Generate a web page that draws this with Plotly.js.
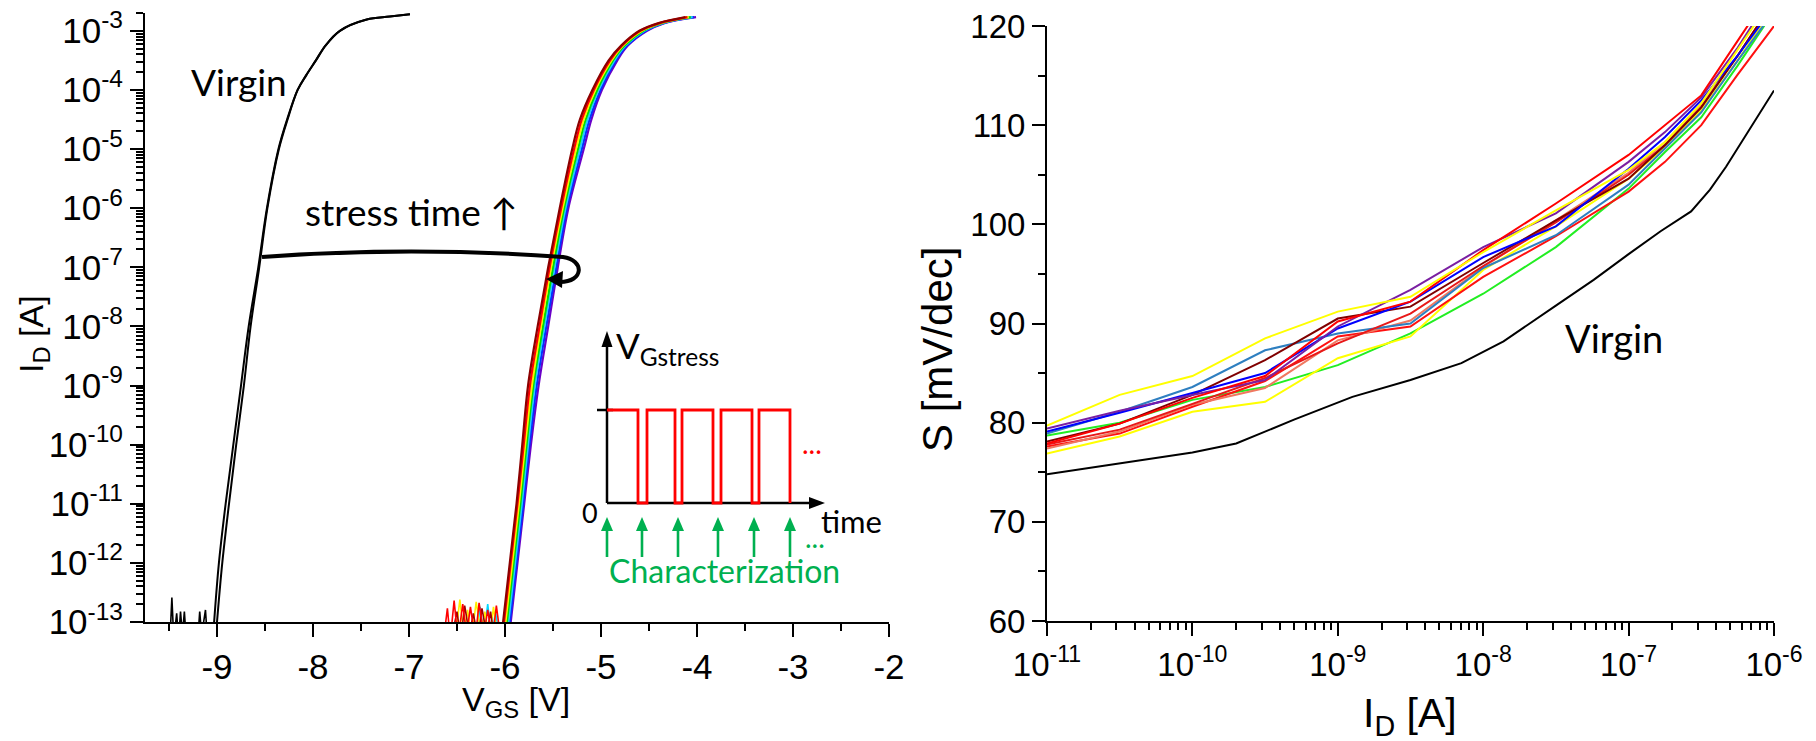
<!DOCTYPE html>
<html><head><meta charset="utf-8">
<script src="https://cdn.plot.ly/plotly-3.0.1.min.js"></script>
<style>html,body{margin:0;padding:0;background:#fff}#chart{width:1816px;height:741px}</style>
</head><body><div id="chart"></div>
<script>
// ================= LEFT PANEL: I_D vs V_GS =================
const virginI = [1e-13,1e-12,1e-11,1e-10,1e-9,1e-8,1e-7,1e-6,1e-5,3.16e-5,1e-4,1.78e-4,3.16e-4,5.62e-4,1e-3,1.55e-3,1.74e-3,1.91e-3];
const virginFwdV = [-9.03,-8.98,-8.91,-8.83,-8.75,-8.67,-8.57,-8.48,-8.36,-8.27,-8.16,-8.07,-7.97,-7.87,-7.72,-7.44,-7.20,-6.99];
const virginRevV = [-9.00,-8.945,-8.875,-8.80,-8.72,-8.65,-8.56,-8.475,-8.355,-8.265,-8.16,-8.07,-7.97,-7.87,-7.72,-7.44,-7.20,-6.99];
const virginNoiseV = [-9.52,-9.49,-9.47,-9.45,-9.42,-9.40,-9.38,-9.36,-9.34,-9.32,-9.25,-9.20,-9.18,-9.16,-9.12,-9.10,-9.06,-9.03];
const virginNoiseI = [4e-14,5e-14,2.6e-13,5e-14,1.4e-13,5e-14,1.5e-13,6e-14,1.5e-13,5e-14,4e-14,5e-14,1.5e-13,6e-14,1.6e-13,5e-14,6e-14,1e-13];

const stressI = [1e-13,1e-12,1e-11,1e-10,1e-9,1e-8,1e-7,1e-6,1e-5,3.16e-5,1e-4,3.16e-4,5.62e-4,1e-3,1.35e-3,1.7e-3];
const stressDarkRedV = [-6.02,-5.95,-5.88,-5.82,-5.76,-5.66,-5.55,-5.43,-5.30,-5.22,-5.09,-4.92,-4.79,-4.60,-4.40,-4.12];
const stressRedV     = [-6.01,-5.94,-5.87,-5.805,-5.74,-5.64,-5.535,-5.415,-5.28,-5.20,-5.075,-4.905,-4.78,-4.59,-4.39,-4.10];
const stressYellowV  = [-5.995,-5.925,-5.855,-5.79,-5.72,-5.625,-5.52,-5.40,-5.26,-5.18,-5.06,-4.89,-4.77,-4.575,-4.38,-4.085];
const stressGreenV   = [-5.98,-5.91,-5.84,-5.775,-5.705,-5.605,-5.50,-5.385,-5.24,-5.16,-5.04,-4.875,-4.755,-4.56,-4.37,-4.065];
const stressCyanV    = [-5.965,-5.895,-5.825,-5.76,-5.69,-5.59,-5.485,-5.37,-5.22,-5.14,-5.025,-4.86,-4.745,-4.55,-4.36,-4.045];
const stressLBlueV   = [-5.95,-5.88,-5.81,-5.745,-5.67,-5.57,-5.465,-5.355,-5.20,-5.12,-5.005,-4.845,-4.73,-4.535,-4.35,-4.03];
const stressBlueV    = [-5.94,-5.87,-5.80,-5.73,-5.65,-5.55,-5.45,-5.34,-5.18,-5.10,-4.99,-4.83,-4.72,-4.52,-4.34,-4.01];

const noiseDarkRedV = [-6.55,-6.50,-6.46,-6.42,-6.37,-6.33,-6.28,-6.24,-6.19,-6.15,-6.11,-6.07,-6.02];
const noiseDarkRedI = [6e-14,1.5e-13,5e-14,1.9e-13,6e-14,1.4e-13,5e-14,1.7e-13,6e-14,1.5e-13,5e-14,7e-14,1e-13];
const noiseRedV = [-6.64,-6.60,-6.57,-6.53,-6.49,-6.44,-6.40,-6.36,-6.31,-6.27,-6.22,-6.18,-6.13,-6.09,-6.05,-6.01];
const noiseRedI = [5e-14,1.7e-13,5e-14,2.3e-13,5e-14,2.0e-13,6e-14,1.8e-13,5e-14,2.1e-13,6e-14,1.6e-13,5e-14,1.9e-13,6e-14,1e-13];
const noiseYellowV = [-6.52,-6.47,-6.43,-6.39,-6.35,-6.30,-6.25,-6.21,-6.16,-6.12,-6.08,-6.0];
const noiseYellowI = [5e-14,2.4e-13,6e-14,1.6e-13,5e-14,2.2e-13,6e-14,1.5e-13,5e-14,1.8e-13,6e-14,1e-13];
const noiseCyanV = [-6.30,-6.26,-6.22,-6.18,-6.14,-6.10,-6.06,-5.97];
const noiseCyanI = [5e-14,1.8e-13,6e-14,2.0e-13,5e-14,1.5e-13,6e-14,1e-13];

const leftXTicks = [-9,-8,-7,-6,-5,-4,-3,-2];
const leftXTickText = ['-9','-8','-7','-6','-5','-4','-3','-2'];
const leftYExp = [-13,-12,-11,-10,-9,-8,-7,-6,-5,-4,-3];

// ================= RIGHT PANEL: S vs I_D =================
const virginSI = [1e-11,3.16e-11,1e-10,2e-10,5e-10,1.26e-9,3.16e-9,7.08e-9,1.38e-8,3.16e-8,5.75e-8,1e-7,1.66e-7,2.69e-7,3.63e-7,4.68e-7,7.24e-7,1e-6];
const virginS  = [74.8,75.9,77.0,77.9,80.3,82.6,84.3,86.0,88.2,91.8,94.4,97.0,99.3,101.3,103.5,105.8,110.2,113.5];

const stressSI = [1e-11,3.16e-11,1e-10,3.16e-10,1e-9,3.16e-9,1e-8,3.16e-8,1e-7,1.78e-7,3.16e-7,5.62e-7,1e-6];
const sYellowA = [79.7,82.8,84.7,88.5,91.2,92.7,97.2,101.4,105.5,108.3,112.2,117.5,123];
const sSteel   = [78.9,81.1,83.6,87.3,89.0,90.0,95.6,98.9,104.0,107.7,111.3,116.5,121.5];
const sDarkRed = [78.1,79.9,82.8,86.3,90.5,91.7,96.1,100.4,104.6,108.0,111.8,117.0,122.5];
const sRed1    = [77.9,79.9,82.5,84.7,90.2,92.2,97.4,102.1,107.0,110.0,113.0,118.5,124];
const sBlue    = [79.1,81.0,83.0,85.0,89.5,92.2,96.7,99.8,105.6,108.8,112.5,117.0,122];
const sPurple  = [79.4,81.2,82.8,84.3,89.7,93.4,97.7,101.1,106.3,109.3,112.8,117.8,123.5];
const sGreen   = [78.7,80.0,82.3,83.6,85.8,89.0,93.0,97.7,103.6,107.3,110.8,116.0,121.5];
const sSalmon  = [77.4,79.1,81.8,83.5,88.3,90.3,95.7,100.4,105.2,108.3,112.0,117.0,122.5];
const sRed2    = [77.6,78.9,81.6,84.2,88.7,89.7,94.7,98.8,103.3,106.3,110.0,115.1,120.0];
const sYellowB = [76.9,78.6,81.1,82.1,86.5,88.7,95.4,99.8,104.6,107.8,111.5,116.5,122];
const sRed3    = [77.8,79.3,81.9,84.5,88.0,91.0,95.8,100.2,105.0,108.0,111.8,117.0,122.5];

const rightXExp = [-11,-10,-9,-8,-7,-6];
const rightYTicks = [60,70,80,90,100,110,120];

// ================= helpers =================
const W = 1816, H = 741;
const FONT = 'Liberation Sans, Arial, sans-serif';
const TFONT = 'Lato, Open Sans, sans-serif';
const px = x => (x / W).toFixed(5);
const py = y => (1 - y / H).toFixed(5);
function path(pts) {
  return pts.map(p => p[0] + ' ' + p.slice(1).reduce((a, v, i) => a + (i % 2 === 0 ? px(v) : ',' + py(v) + ' '), '')).join(' ');
}
function pow10Text(e) { return '10<sup>' + String(e) + '</sup>'; }
function minorLog(e0, e1) {
  const out = [];
  for (let e = e0; e < e1; e++) for (let m = 2; m <= 9; m++) out.push(m * Math.pow(10, e));
  return out;
}

const traces = [];
function lineL(x, y, color, width, shape) {
  traces.push({x: x, y: y, xaxis: 'x', yaxis: 'y', type: 'scatter', mode: 'lines',
    line: {color: color, width: width, shape: shape || 'linear', smoothing: 1}, hoverinfo: 'skip'});
}
function lineR(x, y, color, width) {
  traces.push({x: x, y: y, xaxis: 'x2', yaxis: 'y2', type: 'scatter', mode: 'lines',
    line: {color: color, width: width}, hoverinfo: 'skip'});
}

// left traces
lineL(virginNoiseV, virginNoiseI, '#000', 1.6);
lineL(virginFwdV, virginI, '#000', 2, 'spline');
lineL(virginRevV, virginI, '#000', 2, 'spline');
lineL(noiseCyanV, noiseCyanI, '#00d8ff', 1.6);
lineL(noiseYellowV, noiseYellowI, '#ffee00', 1.6);
lineL(noiseDarkRedV, noiseDarkRedI, '#a00000', 1.6);
lineL(noiseRedV, noiseRedI, '#ff0000', 1.6);
lineL(stressBlueV, stressI, '#6a00c8', 2.2, 'spline');
lineL(stressLBlueV, stressI, '#0033ff', 2.2, 'spline');
lineL(stressCyanV, stressI, '#22ccff', 2.2, 'spline');
lineL(stressGreenV, stressI, '#00dd00', 2.2, 'spline');
lineL(stressYellowV, stressI, '#ffee00', 2.2, 'spline');
lineL(stressRedV, stressI, '#ff0000', 2.2, 'spline');
lineL(stressDarkRedV, stressI, '#8b0000', 2.2, 'spline');

// right traces
lineR(virginSI, virginS, '#000', 2);
lineR(stressSI, sGreen, '#22ee22', 2);
lineR(stressSI, sYellowB, '#ffff00', 2);
lineR(stressSI, sRed2, '#ff1010', 2);
lineR(stressSI, sSalmon, '#f07860', 2);
lineR(stressSI, sSteel, '#2e7fc0', 2);
lineR(stressSI, sRed3, '#e81818', 2);
lineR(stressSI, sDarkRed, '#800000', 2);
lineR(stressSI, sBlue, '#0000ff', 2);
lineR(stressSI, sPurple, '#7a1fa2', 2);
lineR(stressSI, sRed1, '#ff0000', 2);
lineR(stressSI, sYellowA, '#ffff00', 2);

const axBase = {showline: true, linecolor: '#000', linewidth: 2, ticks: 'outside', ticklen: 13, tickwidth: 2,
  tickcolor: '#000', showgrid: false, zeroline: false, mirror: false, fixedrange: true};

const layout = {
  width: W, height: H, margin: {l: 0, r: 0, t: 0, b: 0}, paper_bgcolor: '#fff', plot_bgcolor: '#fff',
  showlegend: false, font: {family: FONT, color: '#000'},
  xaxis: Object.assign({}, axBase, {domain: [145 / W, 889 / W], range: [-9.75, -2], anchor: 'y',
    tickmode: 'array', tickvals: leftXTicks, ticktext: leftXTickText, tickfont: {size: 35, family: FONT},
    minor: {tickmode: 'array', tickvals: [-9.5,-8.5,-7.5,-6.5,-5.5,-4.5,-3.5,-2.5], ticks: 'outside', ticklen: 7, tickwidth: 2, tickcolor: '#000'}}),
  yaxis: Object.assign({}, axBase, {domain: [1 - 622 / H, 1 - 13 / H], type: 'log', range: [-13, Math.log10(2e-3)], anchor: 'x',
    tickmode: 'array', tickvals: leftYExp.map(e => Math.pow(10, e)), ticktext: leftYExp.map(pow10Text), tickfont: {size: 35, family: FONT},
    minor: {tickmode: 'array', tickvals: minorLog(-13, -2), ticks: 'outside', ticklen: 7, tickwidth: 2, tickcolor: '#000'}}),
  xaxis2: Object.assign({}, axBase, {domain: [1047 / W, 1774 / W], type: 'log', range: [-11, -6], anchor: 'y2',
    tickmode: 'array', tickvals: rightXExp.map(e => Math.pow(10, e)), ticktext: rightXExp.map(pow10Text), tickfont: {size: 33, family: FONT},
    minor: {tickmode: 'array', tickvals: minorLog(-11, -6), ticks: 'outside', ticklen: 7, tickwidth: 2, tickcolor: '#000'}}),
  yaxis2: Object.assign({}, axBase, {domain: [1 - 621 / H, 1 - 26 / H], range: [60, 120], anchor: 'x2',
    tickmode: 'array', tickvals: rightYTicks, ticktext: rightYTicks.map(String), tickfont: {size: 33, family: FONT},
    minor: {tickmode: 'array', tickvals: [65,75,85,95,105,115], ticks: 'outside', ticklen: 7, tickwidth: 2, tickcolor: '#000'}}),
  shapes: [],
  annotations: []
};

function ann(text, x, y, size, opts) {
  layout.annotations.push(Object.assign({text: text, x: x / W, y: 1 - y / H, xref: 'paper', yref: 'paper',
    showarrow: false, xanchor: 'center', yanchor: 'middle', font: {size: size, family: TFONT, color: '#000'}}, opts || {}));
}
function shp(d, color, width, fill) {
  layout.shapes.push({type: 'path', xref: 'paper', yref: 'paper', path: d,
    line: {color: color, width: fill ? 0 : width}, fillcolor: fill ? color : 'rgba(0,0,0,0)', layer: 'above'});
}

// axis titles
ann('I<sub>D</sub> [A]', 33, 334, 34, {textangle: -90, font: {size: 34, family: FONT, color: '#000'}});
ann('V<sub>GS</sub> [V]', 516, 701, 34, {font: {size: 34, family: FONT, color: '#000'}});
ann('I<sub>D</sub> [A]', 1410, 716, 41, {font: {size: 41, family: FONT, color: '#000'}});
ann('S [mV/dec]', 937, 350, 42, {textangle: -90, font: {size: 42, family: FONT, color: '#000'}});

// text labels
ann('Virgin', 239, 81, 37);
ann('stress time \u2191', 411, 211, 37);
ann('Virgin', 1614, 338, 38);

// stress arrow (curved with hook)
shp(path([['M', 262, 257], ['Q', 410, 246, 563, 257], ['C', 585, 260, 584, 282, 560, 282]]), '#000', 4);
shp(path([['M', 546, 279], ['L', 563, 271], ['L', 562, 288]]) + ' Z', '#000', 0, true);

// inset: V_Gstress pulse diagram
shp(path([['M', 607, 503], ['L', 607, 343]]), '#000', 2.5);
shp(path([['M', 607, 331], ['L', 601.5, 347], ['L', 612.5, 347]]) + ' Z', '#000', 0, true);
shp(path([['M', 607, 503], ['L', 812, 503]]), '#000', 2.5);
shp(path([['M', 825, 503], ['L', 809, 497], ['L', 809, 509]]) + ' Z', '#000', 0, true);
shp(path([['M', 597, 410], ['L', 613, 410]]), '#000', 2.5);
shp(path([['M', 607, 410], ['L', 638, 410], ['L', 638, 503], ['L', 647, 503], ['L', 647, 410], ['L', 675, 410], ['L', 675, 503],
  ['L', 682, 503], ['L', 682, 410], ['L', 713, 410], ['L', 713, 503], ['L', 721, 503], ['L', 721, 410], ['L', 752, 410],
  ['L', 752, 503], ['L', 759, 503], ['L', 759, 410], ['L', 790, 410], ['L', 790, 503]]), '#ff0000', 2.8);
[607, 642, 678, 718, 754, 790].forEach(xa => {
  shp(path([['M', xa, 557], ['L', xa, 528]]), '#00b050', 2.6);
  shp(path([['M', xa, 517], ['L', xa - 6, 531], ['L', xa + 6, 531]]) + ' Z', '#00b050', 0, true);
});
ann('V<sub>Gstress</sub>', 614, 347, 35, {xanchor: 'left'});
ann('0', 590, 512, 27);
ann('time', 851, 521, 31);
ann('...', 812, 443, 28, {font: {size: 28, family: TFONT, color: '#ff0000'}});
ann('...', 815, 537, 28, {font: {size: 28, family: TFONT, color: '#00b050'}});
ann('Characterization', 724, 570, 32, {font: {size: 32, family: TFONT, color: '#00b050'}});

Plotly.newPlot('chart', traces, layout, {staticPlot: true, displayModeBar: false});
</script>
</body></html>
